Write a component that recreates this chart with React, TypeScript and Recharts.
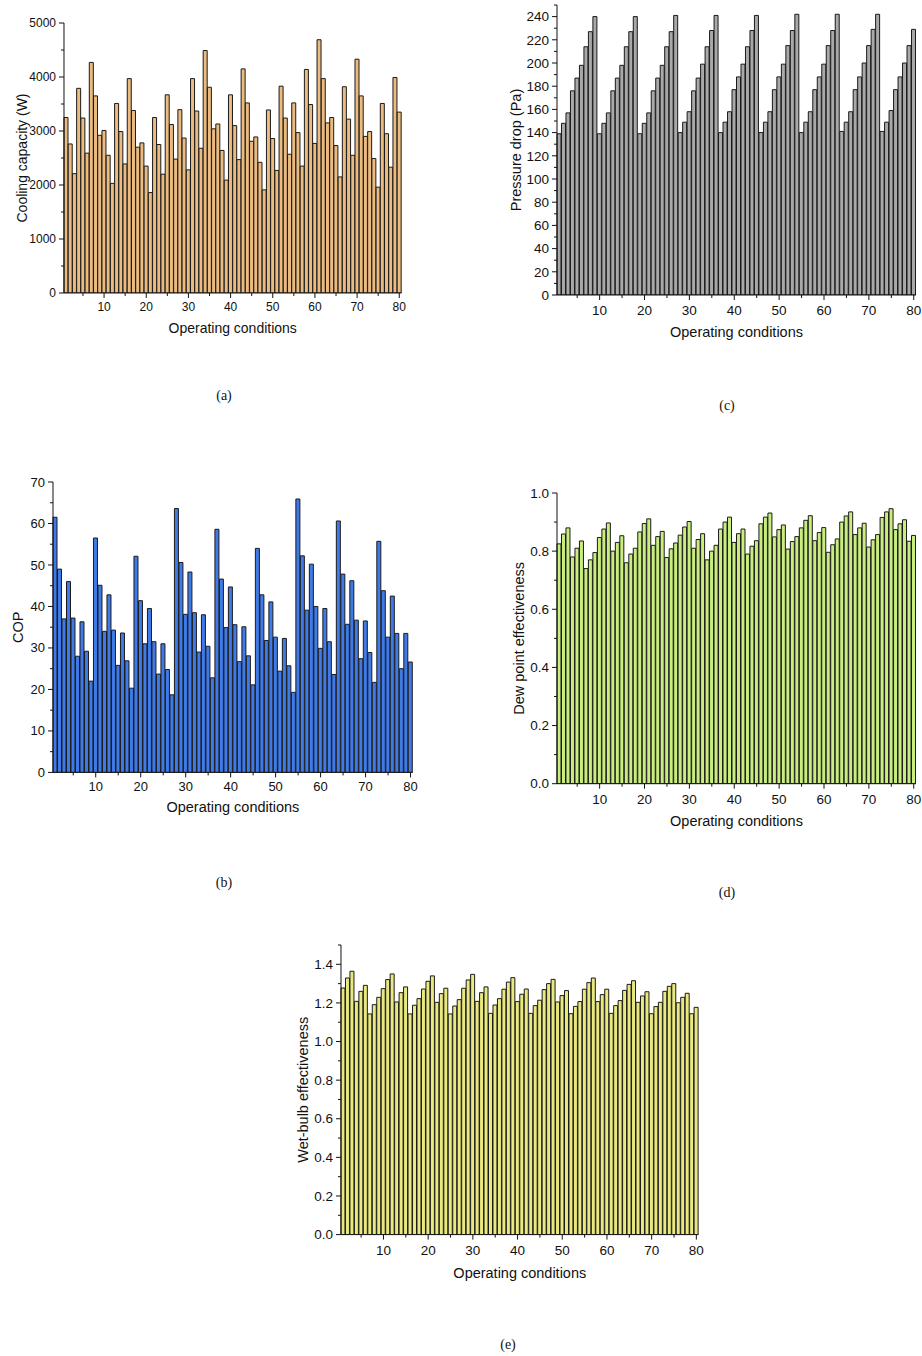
import React from 'react';
import { BarChart, Bar, XAxis, YAxis } from 'recharts';

// operating conditions 1..80
const conditions = Array.from({ length: 80 }, (_, i) => i + 1);
const xMajor = [10, 20, 30, 40, 50, 60, 70, 80];
const xMinor = [5, 15, 25, 35, 45, 55, 65, 75];

const coolingCapacity = [
  3250, 2760, 2210, 3790, 3240, 2590, 4270, 3650, 2920, 3010,
  2550, 2030, 3510, 2990, 2390, 3970, 3380, 2700, 2780, 2350,
  1860, 3250, 2750, 2200, 3670, 3120, 2480, 3395, 2870, 2280,
  3970, 3370, 2680, 4490, 3810, 3040, 3130, 2640, 2090, 3670,
  3100, 2470, 4150, 3520, 2810, 2890, 2420, 1910, 3390, 2860,
  2270, 3830, 3240, 2570, 3520, 2970, 2350, 4140, 3490, 2770,
  4690, 3970, 3150, 3250, 2730, 2150, 3820, 3220, 2550, 4330,
  3650, 2900, 2990, 2490, 1960, 3510, 2950, 2330, 3990, 3350,
];

const cop = [
  61.5, 49, 37, 46, 37.2, 28, 36.3, 29.2, 22, 56.5,
  45.1, 34, 42.8, 34.3, 25.8, 33.6, 26.9, 20.3, 52.1, 41.4,
  31, 39.5, 31.5, 23.7, 31, 24.8, 18.7, 63.6, 50.6, 38.1,
  48.3, 38.5, 29, 38, 30.4, 22.8, 58.6, 46.6, 34.9, 44.7,
  35.6, 26.7, 35.1, 28.1, 21.1, 54, 42.8, 31.8, 41.1, 32.6,
  24.4, 32.3, 25.7, 19.3, 65.9, 52.2, 39.1, 50.2, 40, 29.9,
  39.5, 31.5, 23.6, 60.6, 47.8, 35.7, 46.2, 36.7, 27.4, 36.5,
  28.9, 21.7, 55.7, 43.8, 32.6, 42.5, 33.5, 25, 33.5, 26.6,
];

const pressureDrop = [
  139, 148, 157, 176, 187, 198, 214, 227, 240,
  139, 148, 157, 176, 187, 198, 214, 227, 240,
  139, 148, 157, 176, 187, 198, 214, 227, 241,
  140, 149, 158, 176, 187, 199, 214, 228, 241,
  140, 149, 158, 177, 188, 199, 214, 228, 241,
  140, 149, 158, 177, 188, 199, 215, 228, 242,
  140, 149, 158, 177, 188, 199, 215, 228, 242,
  141, 149, 158, 177, 188, 200, 215, 229, 242,
  141, 149, 159, 177, 188, 200, 215, 229,
];

const dewPointEff = [
  0.825, 0.859, 0.88, 0.78, 0.81, 0.835, 0.74, 0.77, 0.795,
  0.847, 0.876, 0.897, 0.8, 0.83, 0.853, 0.76, 0.79, 0.81,
  0.866, 0.895, 0.911, 0.82, 0.85, 0.868, 0.778, 0.808, 0.828,
  0.855, 0.883, 0.902, 0.81, 0.84, 0.86, 0.77, 0.8, 0.82,
  0.876, 0.9, 0.917, 0.83, 0.86, 0.876, 0.79, 0.817, 0.836,
  0.894, 0.917, 0.931, 0.849, 0.874, 0.89, 0.807, 0.833, 0.85,
  0.88, 0.906, 0.922, 0.836, 0.864, 0.881, 0.796, 0.822, 0.842,
  0.9, 0.921, 0.935, 0.857, 0.88, 0.896, 0.814, 0.839, 0.857,
  0.916, 0.935, 0.946, 0.874, 0.894, 0.908, 0.834, 0.854,
];

const wetBulbEff = [
  1.277, 1.329, 1.364, 1.208, 1.26, 1.291, 1.143, 1.191, 1.229,
  1.274, 1.321, 1.35, 1.205, 1.253, 1.283, 1.143, 1.188, 1.222,
  1.272, 1.312, 1.34, 1.203, 1.248, 1.276, 1.143, 1.184, 1.217,
  1.276, 1.319, 1.348, 1.208, 1.253, 1.283, 1.146, 1.189, 1.222,
  1.271, 1.308, 1.331, 1.207, 1.245, 1.272, 1.146, 1.186, 1.214,
  1.269, 1.3, 1.322, 1.205, 1.238, 1.264, 1.144, 1.182, 1.207,
  1.271, 1.305, 1.329, 1.207, 1.243, 1.271, 1.146, 1.186, 1.212,
  1.265, 1.296, 1.315, 1.203, 1.236, 1.258, 1.144, 1.181, 1.203,
  1.26, 1.286, 1.3, 1.201, 1.229, 1.25, 1.144, 1.177,
];

const capMajor = [0, 1000, 2000, 3000, 4000, 5000];
const capMinor = [500, 1500, 2500, 3500, 4500];
const copMajor = [0, 10, 20, 30, 40, 50, 60, 70];
const copMinor = [5, 15, 25, 35, 45, 55, 65];
const pdMajor = [0, 20, 40, 60, 80, 100, 120, 140, 160, 180, 200, 220, 240];
const pdMinor = [10, 30, 50, 70, 90, 110, 130, 150, 170, 190, 210, 230, 250];
const dpMajor = [0, 0.2, 0.4, 0.6, 0.8, 1.0];
const dpMinor = [0.1, 0.3, 0.5, 0.7, 0.9];
const wbMajor = [0, 0.2, 0.4, 0.6, 0.8, 1.0, 1.2, 1.4];
const wbMinor = [0.1, 0.3, 0.5, 0.7, 0.9, 1.1, 1.3, 1.5];

const FONT = '"Liberation Sans", Arial, sans-serif';
const AXIS = '#111';

interface PanelProps {
  values: number[];
  color: string;
  max: number;
  major: number[];
  minor: number[];
  decimals: number;
  yTitle: string;
  plot: { left: number; right: number; top: number; bottom: number };
  tickFont: number;
  titleFont: number;
  yTitleX: number;
  xTickDy: number;
  xTitleOffset: number;
  caption: string;
  captionX: number;
  captionY: number;
}

const Panel: React.FC<PanelProps> = (p) => {
  const padL = 70;
  const padT = 12;
  const padR = 12;
  const padB = 60;
  const pw = p.plot.right - p.plot.left;
  const ph = p.plot.bottom - p.plot.top;
  const data = conditions.map((c, i) => ({ c, v: p.values[i] }));
  const yTicks = [...p.major, ...p.minor].sort((a, b) => a - b);

  const xTick = (props: any) => {
    const v = Number(props.payload.value);
    const major = xMajor.includes(v);
    if (!major && !xMinor.includes(v)) return <g />;
    return (
      <g>
        <line x1={props.x} x2={props.x} y1={props.y} y2={props.y + (major ? 5 : 3)} stroke={AXIS} strokeWidth={1} />
        {major && (
          <text x={props.x} y={props.y + p.xTickDy} textAnchor="middle" fontSize={p.tickFont} fontFamily={FONT} fill="#111">
            {v}
          </text>
        )}
      </g>
    );
  };

  const yTick = (props: any) => {
    const v = Number(props.payload.value);
    const major = p.major.includes(v);
    return (
      <g>
        <line x1={props.x} x2={props.x - (major ? 5 : 3)} y1={props.y} y2={props.y} stroke={AXIS} strokeWidth={1} />
        {major && (
          <text x={props.x - 8} y={props.y} dy="0.35em" textAnchor="end" fontSize={p.tickFont} fontFamily={FONT} fill="#111">
            {v.toFixed(p.decimals)}
          </text>
        )}
      </g>
    );
  };

  return (
    <>
      <div style={{ position: 'absolute', left: p.plot.left - padL, top: p.plot.top - padT }}>
        <BarChart
          width={pw + padL + padR}
          height={ph + padT + padB}
          data={data}
          margin={{ top: padT, right: padR, bottom: 0, left: 0 }}
          barCategoryGap={0}
        >
          <XAxis
            dataKey="c"
            type="category"
            height={padB}
            interval={0}
            tickSize={0}
            tickMargin={0}
            tickLine={false}
            tick={xTick}
            axisLine={{ stroke: AXIS, strokeWidth: 1 }}
            label={{
              value: 'Operating conditions',
              position: 'insideBottom',
              offset: p.xTitleOffset,
              style: { fontSize: p.titleFont, fontFamily: FONT, fill: '#111' },
            }}
          />
          <YAxis
            type="number"
            width={padL}
            domain={[0, p.max]}
            ticks={yTicks}
            interval={0}
            allowDataOverflow
            tickSize={0}
            tickMargin={0}
            tickLine={false}
            tick={yTick}
            axisLine={{ stroke: AXIS, strokeWidth: 1 }}
            label={{
              value: p.yTitle,
              angle: -90,
              position: 'insideLeft',
              offset: p.yTitleX - (p.plot.left - padL),
              style: { fontSize: p.titleFont, fontFamily: FONT, fill: '#111', textAnchor: 'middle' },
            }}
          />
          <Bar dataKey="v" fill={p.color} stroke="#1a1a1a" strokeWidth={1} isAnimationActive={false} />
        </BarChart>
      </div>
      <div
        style={{
          position: 'absolute',
          left: p.captionX - 30,
          width: 60,
          top: p.captionY - 9,
          textAlign: 'center',
          fontFamily: '"Liberation Serif", "Times New Roman", serif',
          fontSize: 14,
          lineHeight: '18px',
          color: '#111',
        }}
      >
        {p.caption}
      </div>
    </>
  );
};

export default function App() {
  return (
    <div style={{ position: 'absolute', left: 0, top: 0, width: 922, height: 1356, background: '#fff' }}>
      <Panel
        values={coolingCapacity}
        color="#EBBB80"
        max={5000}
        major={capMajor}
        minor={capMinor}
        decimals={0}
        yTitle="Cooling capacity (W)"
        plot={{ left: 64.3, right: 401.7, top: 22.7, bottom: 292.7 }}
        tickFont={12}
        titleFont={14}
        yTitleX={22}
        xTickDy={18.5}
        xTitleOffset={20}
        caption="(a)"
        captionX={224}
        captionY={396}
      />
      <Panel
        values={pressureDrop}
        color="#A9A9A9"
        max={250}
        major={pdMajor}
        minor={pdMinor}
        decimals={0}
        yTitle="Pressure drop (Pa)"
        plot={{ left: 556.6, right: 915.6, top: 5, bottom: 295 }}
        tickFont={13.5}
        titleFont={14.5}
        yTitleX={515}
        xTickDy={20}
        xTitleOffset={18}
        caption="(c)"
        captionX={727}
        captionY={406}
      />
      <Panel
        values={cop}
        color="#3F7BE8"
        max={70}
        major={copMajor}
        minor={copMinor}
        decimals={0}
        yTitle="COP"
        plot={{ left: 53.2, right: 413, top: 482.3, bottom: 772.7 }}
        tickFont={13}
        titleFont={14.5}
        yTitleX={18}
        xTickDy={19}
        xTitleOffset={20}
        caption="(b)"
        captionX={224}
        captionY={883}
      />
      <Panel
        values={dewPointEff}
        color="#C9EE7F"
        max={1}
        major={dpMajor}
        minor={dpMinor}
        decimals={1}
        yTitle="Dew point effectiveness"
        plot={{ left: 556.6, right: 915.6, top: 493.3, bottom: 784 }}
        tickFont={13.5}
        titleFont={14.5}
        yTitleX={518}
        xTickDy={20.5}
        xTitleOffset={18}
        caption="(d)"
        captionX={727}
        captionY={893}
      />
      <Panel
        values={wetBulbEff}
        color="#E9E97F"
        max={1.5}
        major={wbMajor}
        minor={wbMinor}
        decimals={1}
        yTitle="Wet-bulb effectiveness"
        plot={{ left: 340.9, right: 698.5, top: 944.7, bottom: 1234.3 }}
        tickFont={13.5}
        titleFont={14.5}
        yTitleX={302.7}
        xTickDy={20}
        xTitleOffset={17}
        caption="(e)"
        captionX={508}
        captionY={1345}
      />
    </div>
  );
}
